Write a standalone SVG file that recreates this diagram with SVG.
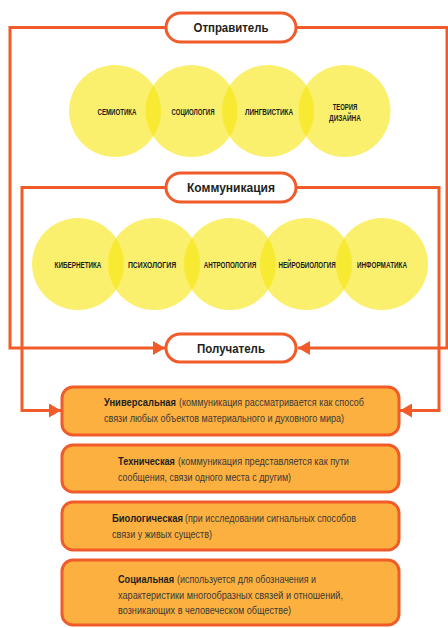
<svg xmlns="http://www.w3.org/2000/svg" width="448" height="628" viewBox="0 0 448 628">
<defs>
<style>
.ln{fill:none;stroke:#f15a29;stroke-width:3}
.pill{fill:#fff;stroke:#f15a29;stroke-width:3}
.pt{font-family:"Liberation Sans",Arial,sans-serif;font-weight:bold;font-size:12.5px;fill:#231f20;text-anchor:middle}
.c{fill:#f6e508;fill-opacity:0.59}
.ct{font-family:"Liberation Sans",Arial,sans-serif;font-weight:bold;font-size:9.5px;fill:#231f20;text-anchor:middle}
.box{fill:#fbb040;stroke:#f15a29;stroke-width:3}
.bt{font-family:"Liberation Sans",Arial,sans-serif;font-size:11px;fill:#3c3a39}
.b{font-weight:bold;fill:#231f20}
</style>
<marker id="ah" viewBox="0 0 12 14" refX="12" refY="7" markerWidth="12" markerHeight="14" markerUnits="userSpaceOnUse" orient="auto">
<path d="M0,0 L12,7 L0,14 Z" fill="#f15a29"/>
</marker>
</defs>
<rect width="448" height="628" fill="#fff"/>
<g id="connectors">
<path class="ln" d="M166,27.5 H10 V348 H165" marker-end="url(#ah)"/>
<path class="ln" d="M296,27.5 H447 V348 H298" marker-end="url(#ah)"/>
<path class="ln" d="M166,187.5 H22 V410.5 H61" marker-end="url(#ah)"/>
<path class="ln" d="M296,187.5 H439 V410.5 H400" marker-end="url(#ah)"/>
</g>
<g id="sender">
<rect class="pill" x="166" y="13" width="130" height="29" rx="14.5"/>
<text class="pt" x="231" y="32" textLength="75" lengthAdjust="spacingAndGlyphs">Отправитель</text>
</g>
<g id="circles-top">
<circle class="c" cx="115" cy="111" r="46"/>
<circle class="c" cx="191.5" cy="111" r="46"/>
<circle class="c" cx="268" cy="111" r="46"/>
<circle class="c" cx="344.5" cy="111" r="46"/>
<text class="ct" transform="translate(117,114.5) scale(0.65,1)" textLength="60" lengthAdjust="spacingAndGlyphs">СЕМИОТИКА</text>
<text class="ct" transform="translate(193,114.5) scale(0.65,1)" textLength="66" lengthAdjust="spacingAndGlyphs">СОЦИОЛОГИЯ</text>
<text class="ct" transform="translate(269,114.5) scale(0.65,1)" textLength="74" lengthAdjust="spacingAndGlyphs">ЛИНГВИСТИКА</text>
<text class="ct" transform="translate(345,109.5) scale(0.65,1)" textLength="38" lengthAdjust="spacingAndGlyphs">ТЕОРИЯ</text>
<text class="ct" transform="translate(345,121) scale(0.65,1)" textLength="49" lengthAdjust="spacingAndGlyphs">ДИЗАЙНА</text>
</g>
<g id="communication">
<rect class="pill" x="166" y="173" width="130" height="29" rx="14.5"/>
<text class="pt" x="231" y="192" textLength="88" lengthAdjust="spacingAndGlyphs">Коммуникация</text>
</g>
<g id="circles-bottom">
<circle class="c" cx="78" cy="264" r="46"/>
<circle class="c" cx="154" cy="264" r="46"/>
<circle class="c" cx="230" cy="264" r="46"/>
<circle class="c" cx="306" cy="264" r="46"/>
<circle class="c" cx="382" cy="264" r="46"/>
<text class="ct" transform="translate(78,267.5) scale(0.65,1)" textLength="72" lengthAdjust="spacingAndGlyphs">КИБЕРНЕТИКА</text>
<text class="ct" transform="translate(152,267.5) scale(0.65,1)" textLength="74" lengthAdjust="spacingAndGlyphs">ПСИХОЛОГИЯ</text>
<text class="ct" transform="translate(230,267.5) scale(0.65,1)" textLength="81" lengthAdjust="spacingAndGlyphs">АНТРОПОЛОГИЯ</text>
<text class="ct" transform="translate(307,267.5) scale(0.65,1)" textLength="88" lengthAdjust="spacingAndGlyphs">НЕЙРОБИОЛОГИЯ</text>
<text class="ct" transform="translate(382,267.5) scale(0.65,1)" textLength="77" lengthAdjust="spacingAndGlyphs">ИНФОРМАТИКА</text>
</g>
<g id="receiver">
<rect class="pill" x="166" y="334" width="130" height="28" rx="14"/>
<text class="pt" x="231" y="352.5" textLength="68" lengthAdjust="spacingAndGlyphs">Получатель</text>
</g>
<g id="universal">
<rect class="box" x="62" y="387" width="337" height="48" rx="11"/>
<text class="bt b" transform="translate(104,406) scale(0.82,1)" textLength="87.8" lengthAdjust="spacingAndGlyphs">Универсальная</text>
<text class="bt" transform="translate(179,406) scale(0.82,1)" textLength="225.6" lengthAdjust="spacingAndGlyphs">(коммуникация рассматривается как способ</text>
<text class="bt" transform="translate(104,421.5) scale(0.82,1)" textLength="292.7" lengthAdjust="spacingAndGlyphs">связи любых объектов материального и духовного мира)</text>
</g>
<g id="technical">
<rect class="box" x="62" y="445" width="337" height="47" rx="11"/>
<text class="bt b" transform="translate(118,465) scale(0.82,1)" textLength="69.5" lengthAdjust="spacingAndGlyphs">Техническая</text>
<text class="bt" transform="translate(178,465) scale(0.82,1)" textLength="208.5" lengthAdjust="spacingAndGlyphs">(коммуникация представляется как пути</text>
<text class="bt" transform="translate(118,480.5) scale(0.82,1)" textLength="211" lengthAdjust="spacingAndGlyphs">сообщения, связи одного места с другим)</text>
</g>
<g id="biological">
<rect class="box" x="62" y="502" width="337" height="48" rx="11"/>
<text class="bt b" transform="translate(112,522) scale(0.82,1)" textLength="86.6" lengthAdjust="spacingAndGlyphs">Биологическая</text>
<text class="bt" transform="translate(185,522) scale(0.82,1)" textLength="208.5" lengthAdjust="spacingAndGlyphs">(при исследовании сигнальных способов</text>
<text class="bt" transform="translate(112,537.5) scale(0.82,1)" textLength="122" lengthAdjust="spacingAndGlyphs">связи у живых существ)</text>
</g>
<g id="social">
<rect class="box" x="62" y="560" width="337" height="65" rx="11"/>
<text class="bt b" transform="translate(118,583) scale(0.82,1)" textLength="68.3" lengthAdjust="spacingAndGlyphs">Социальная</text>
<text class="bt" transform="translate(177,583) scale(0.82,1)" textLength="169.5" lengthAdjust="spacingAndGlyphs">(используется для обозначения и</text>
<text class="bt" transform="translate(118,598.5) scale(0.82,1)" textLength="274.4" lengthAdjust="spacingAndGlyphs">характеристики многообразных связей и отношений,</text>
<text class="bt" transform="translate(118,614) scale(0.82,1)" textLength="211" lengthAdjust="spacingAndGlyphs">возникающих в человеческом обществе)</text>
</g>
</svg>
